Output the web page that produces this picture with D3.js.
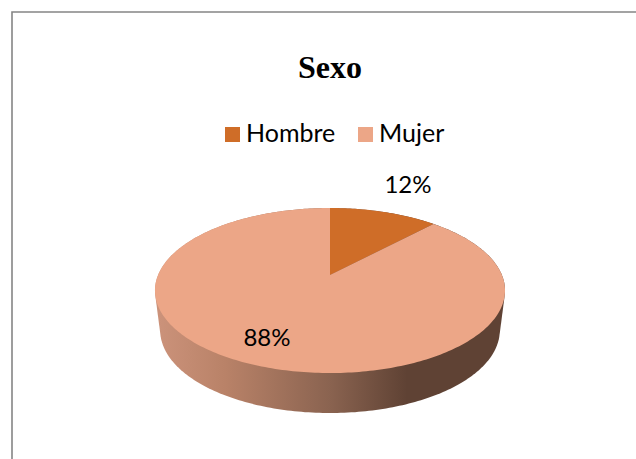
<!DOCTYPE html>
<html>
<head>
<meta charset="utf-8">
<script src="https://cdn.jsdelivr.net/npm/d3@7"></script>
<style>
  html, body { margin: 0; padding: 0; background: #fff; overflow: hidden; }
</style>
</head>
<body>
<div id="chart"></div>
<script>
var categories = ["Hombre", "Mujer"]
var values = [12, 88]
var labels = ["12%", "88%"]
var colors = ["#cf6d28", "#eca687"]

var svg = d3.select("#chart").append("svg").attr("width", 636).attr("height", 459)

// frame runs off the right and bottom of the picture
svg.append("path").attr("d", "M12,459V12H636").attr("fill", "none").attr("stroke", "#858585").attr("stroke-width", 1.6)

svg.append("text").attr("x", 330).attr("y", 78).attr("text-anchor", "middle")
  .style("font-family", "'Liberation Serif'").style("font-weight", "bold").style("font-size", "32px").style("fill", "#000")
  .text("Sexo")

var legend = d3.scaleOrdinal().domain(categories).range([225, 358])
categories.forEach(function(c, i) {
  svg.append("rect").attr("x", legend(c)).attr("y", 127).attr("width", 15).attr("height", 15).attr("fill", colors[i])
  svg.append("text").attr("x", legend(c) + 21).attr("y", 142)
    .style("font-family", "Lato").style("font-size", "25px").style("fill", "#000").text(c)
})

// tilted disc: unit circle through a perspective map, so the centre sits above the middle of the ellipse
var cx = 330, persp = 0.188
function project(a, dy, k, r) {
  var u = r * Math.sin(a), v = r * Math.cos(a), w = 1 + persp * v
  return [cx + k * 171.9 * u / w, (275 - 27.9 * v) / w + dy]
}

var pie = d3.pie().sort(null)(values)
var line = d3.line()

var defs = svg.append("defs")
var grad = defs.append("linearGradient").attr("id", "side").attr("gradientUnits", "userSpaceOnUse")
  .attr("x1", 155).attr("x2", 505).attr("y1", 0).attr("y2", 0)
grad.append("stop").attr("offset", "0").attr("stop-color", "#cc937b")
grad.append("stop").attr("offset", "0.2").attr("stop-color", "#b98268")
grad.append("stop").attr("offset", "0.5").attr("stop-color", "#8a6350")
grad.append("stop").attr("offset", "0.72").attr("stop-color", "#5f4234")
grad.append("stop").attr("offset", "1").attr("stop-color", "#5f4234")

// side wall, swept down from the rim
var steps = d3.range(0, 2 * Math.PI, Math.PI / 180)
var bottom = steps.map(function(a) { return project(a, 40, 0.97, 1) })
var rim = steps.map(function(a) { return project(a, 0, 1, 1) })
svg.append("path").attr("d", line(d3.polygonHull(bottom.concat(rim))) + "Z").attr("fill", "url(#side)")

function wedge(d) {
  var pts = [project(0, 0, 1, 0)]
  var n = Math.ceil((d.endAngle - d.startAngle) * 180 / Math.PI)
  for (var i = 0; i <= n; i++) pts.push(project(d.startAngle + (d.endAngle - d.startAngle) * i / n, 0, 1, 1))
  return line(pts) + "Z"
}
svg.selectAll("path.slice").data(pie).enter().append("path").attr("class", "slice")
  .attr("d", wedge).attr("fill", function(d, i) { return colors[i] })

var labelPos = [[408, 193], [267, 346]]
labels.forEach(function(t, i) {
  svg.append("text").attr("x", labelPos[i][0]).attr("y", labelPos[i][1]).attr("text-anchor", "middle")
    .style("font-family", "Lato").style("font-size", "24px").style("fill", "#000").text(t)
})
</script>
</body>
</html>
